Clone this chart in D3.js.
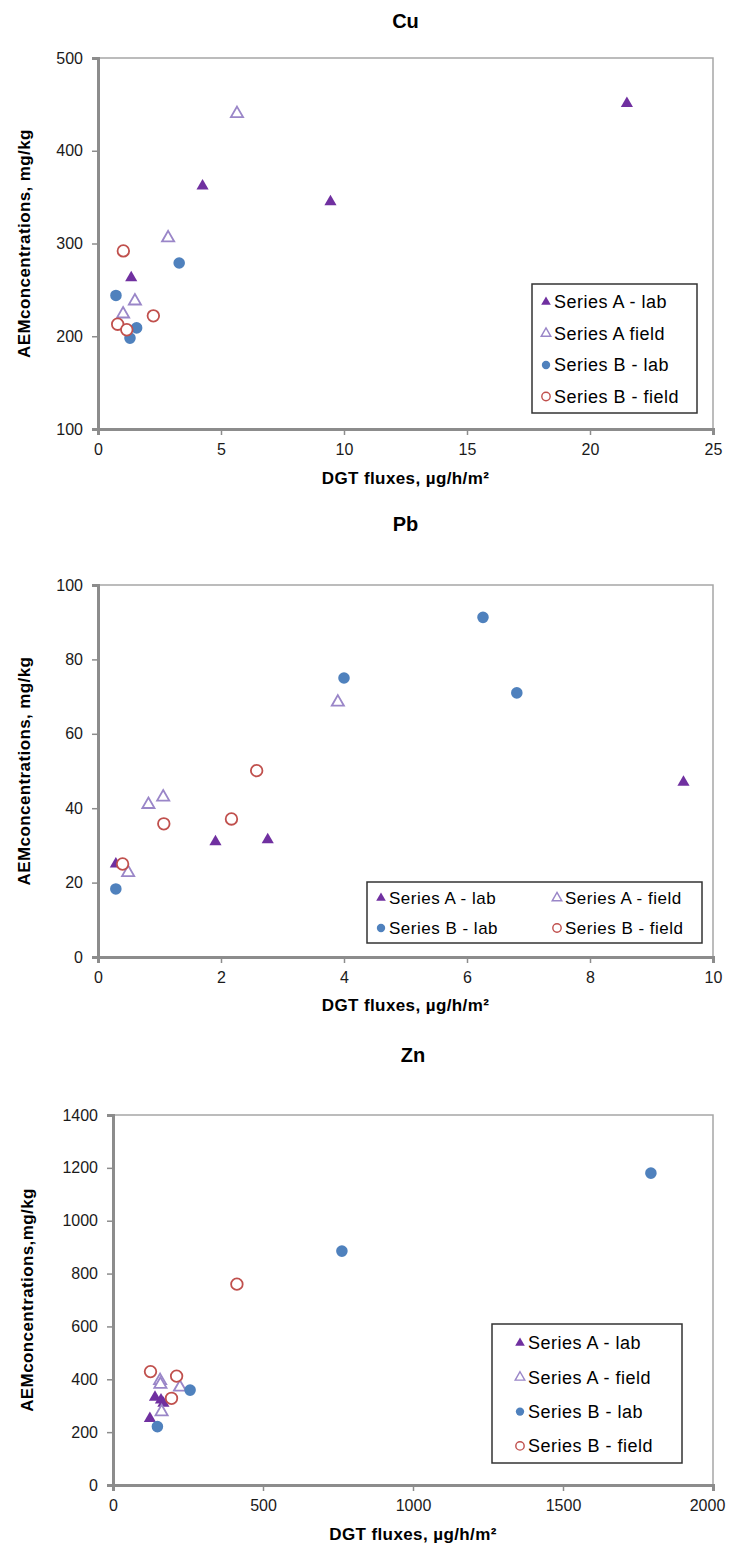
<!DOCTYPE html>
<html>
<head>
<meta charset="utf-8">
<script src="https://cdn.jsdelivr.net/npm/d3@7"></script>
<style>
  body { margin: 0; background: #fff; }
  text { font-family: "Liberation Sans", Arial, sans-serif; }
</style>
</head>
<body>
<svg id="chart" width="729" height="1551"></svg>
<script>
// ---- Cu ----
const cuXTicks = [0, 5, 10, 15, 20, 25];
const cuYTicks = [100, 200, 300, 400, 500];
const cuALab   = [[21.5, 451], [4.25, 362], [9.45, 345], [1.35, 263]];
const cuAField = [[5.65, 440], [2.85, 306], [1.5, 238], [1.02, 224]];
const cuBLab   = [[3.3, 279], [0.73, 244], [1.57, 209], [1.3, 198]];
const cuBField = [[1.03, 292], [2.25, 222], [0.8, 213], [1.17, 207]];
const cuLegend = ["Series A - lab", "Series A field", "Series B - lab", "Series B - field"];

// ---- Pb ----
const pbXTicks = [0, 2, 4, 6, 8, 10];
const pbYTicks = [0, 20, 40, 60, 80, 100];
const pbALab   = [[9.52, 47], [1.91, 31], [2.76, 31.5], [0.29, 25]];
const pbAField = [[3.9, 68.5], [1.06, 43], [0.82, 41], [0.49, 22.7]];
const pbBLab   = [[6.26, 91.3], [4.0, 75], [6.81, 71], [0.29, 18.3]];
const pbBField = [[2.58, 50.1], [2.17, 37.1], [1.07, 35.8], [0.4, 25]];
const pbLegend = ["Series A - lab", "Series A - field", "Series B - lab", "Series B - field"];

// ---- Zn ----
const znXTicks = [0, 500, 1000, 1500, 2000];
const znYTicks = [0, 200, 400, 600, 800, 1000, 1200, 1400];
const znALab   = [[140, 332], [160, 322], [168, 309], [123, 252]];
const znAField = [[157, 395], [158, 381], [223, 370], [162, 277]];
const znBLab   = [[1793, 1180], [763, 885], [257, 359], [148, 221]];
const znBField = [[413, 760], [125, 429], [212, 412], [195, 328]];
const znLegend = ["Series A - lab", "Series A - field", "Series B - lab", "Series B - field"];

const xTitle = "DGT fluxes, µg/h/m²";

// marker styles for the four series
const styles = [
  { shape: d3.symbolTriangle, fill: "#7030A0", stroke: "#7030A0", sw: 0 },
  { shape: d3.symbolTriangle, fill: "#ffffff", stroke: "#9A86C8", sw: 1.8 },
  { shape: d3.symbolCircle,   fill: "#4F81BD", stroke: "#4F81BD", sw: 0 },
  { shape: d3.symbolCircle,   fill: "#ffffff", stroke: "#C0504D", sw: 1.8 }
];

const svg = d3.select("#chart");
const axisGray = "#8c8c8c";

function drawPanel(p) {
  const g = svg.append("g");
  const x = d3.scaleLinear().domain(p.xDomain).range([p.left, p.right]);
  const y = d3.scaleLinear().domain(p.yDomain).range([p.bottom, p.top]);

  // title
  g.append("text")
    .attr("x", (p.left + p.right) / 2).attr("y", p.titleY)
    .attr("text-anchor", "middle")
    .attr("font-size", 20).attr("font-weight", "bold").attr("fill", "#000")
    .text(p.title);

  // plot frame (top/right)
  g.append("rect")
    .attr("x", p.left).attr("y", p.top)
    .attr("width", p.right - p.left).attr("height", p.bottom - p.top)
    .attr("fill", "none").attr("stroke", "#a6a6a6").attr("stroke-width", 1.5);

  // axes
  const xa = g.append("g").attr("transform", `translate(0,${p.bottom})`)
    .call(d3.axisBottom(x).tickValues(p.xTicks).tickSize(6).tickPadding(9).tickFormat(d3.format("d")));
  const ya = g.append("g").attr("transform", `translate(${p.left},0)`)
    .call(d3.axisLeft(y).tickValues(p.yTicks).tickSize(6).tickPadding(9).tickFormat(d3.format("d")));
  [xa, ya].forEach(a => {
    a.select(".domain").attr("stroke", axisGray).attr("stroke-width", 3);
    a.selectAll(".tick line").attr("stroke", axisGray).attr("stroke-width", 1.5);
    a.selectAll(".tick text").attr("font-size", 16).attr("fill", "#1a1a1a")
      .attr("font-family", "\"Liberation Sans\", Arial, sans-serif");
  });
  // keep the last x label inside the page
  if (p.lastXShift) {
    xa.selectAll(".tick text").filter((d, i, n) => i === n.length - 1).attr("dx", p.lastXShift);
  }

  // axis titles
  g.append("text")
    .attr("x", (p.left + p.right) / 2).attr("y", p.xTitleY)
    .attr("text-anchor", "middle")
    .attr("font-size", 17).attr("font-weight", "bold").attr("fill", "#000")
    .attr("letter-spacing", 0.4)
    .text(xTitle);
  g.append("text")
    .attr("transform", `translate(${p.yTitleX},${(p.top + p.bottom) / 2}) rotate(-90)`)
    .attr("text-anchor", "middle")
    .attr("font-size", 17).attr("font-weight", "bold").attr("fill", "#000")
    .attr("letter-spacing", 0.4)
    .text(p.yTitle);

  // data points
  p.series.forEach((data, i) => {
    const s = styles[i];
    const sym = d3.symbol().type(s.shape).size(s.shape === d3.symbolCircle ? 105 : 64);
    g.append("g").selectAll("path").data(data).join("path")
      .attr("transform", d => `translate(${x(d[0])},${y(d[1])})`)
      .attr("d", sym)
      .attr("fill", s.fill).attr("stroke", s.stroke).attr("stroke-width", s.sw);
  });

  // legend
  const L = p.legend;
  g.append("rect")
    .attr("x", L.x).attr("y", L.y).attr("width", L.w).attr("height", L.h)
    .attr("fill", "#fff").attr("stroke", "#333").attr("stroke-width", 1.5);
  L.labels.forEach((lab, i) => {
    const col = i % L.cols, row = Math.floor(i / L.cols);
    const mx = L.x + L.markerX + col * L.colW;
    const my = L.y + L.firstRow + row * L.rowH;
    const s = styles[i];
    const sym = d3.symbol().type(s.shape).size(s.shape === d3.symbolCircle ? 55 : 40);
    g.append("path")
      .attr("transform", `translate(${mx},${my})`)
      .attr("d", sym)
      .attr("fill", s.fill).attr("stroke", s.stroke).attr("stroke-width", s.sw ? 1.4 : 0);
    g.append("text")
      .attr("x", mx + 8).attr("y", my)
      .attr("dy", "0.35em")
      .attr("font-size", L.fontSize).attr("fill", "#000")
      .attr("letter-spacing", 0.5)
      .text(lab);
  });
}

drawPanel({
  title: "Cu", titleY: 28,
  left: 98, right: 713, top: 58, bottom: 429,
  xDomain: [0, 25], yDomain: [100, 500],
  xTicks: cuXTicks, yTicks: cuYTicks,
  xTitleY: 484, yTitleX: 30, yTitle: "AEMconcentrations, mg/kg",
  series: [cuALab, cuAField, cuBLab, cuBField],
  legend: { x: 532, y: 284, w: 165, h: 129, cols: 1, colW: 0, markerX: 14, firstRow: 18, rowH: 31.5,
            fontSize: 18, labels: cuLegend }
});

drawPanel({
  title: "Pb", titleY: 531,
  left: 98, right: 713, top: 585, bottom: 957,
  xDomain: [0, 10], yDomain: [0, 100],
  xTicks: pbXTicks, yTicks: pbYTicks,
  xTitleY: 1011, yTitleX: 30, yTitle: "AEMconcentrations, mg/kg",
  series: [pbALab, pbAField, pbBLab, pbBField],
  legend: { x: 367, y: 882, w: 335, h: 61, cols: 2, colW: 176, markerX: 14, firstRow: 16, rowH: 30,
            fontSize: 17, labels: pbLegend }
});

drawPanel({
  title: "Zn", titleY: 1062,
  left: 113, right: 713, top: 1115, bottom: 1485,
  xDomain: [0, 2000], yDomain: [0, 1400],
  xTicks: znXTicks, yTicks: znYTicks, lastXShift: -6,
  xTitleY: 1540, yTitleX: 33, yTitle: "AEMconcentrations,mg/kg",
  series: [znALab, znAField, znBLab, znBField],
  legend: { x: 492, y: 1324, w: 190, h: 139, cols: 1, colW: 0, markerX: 28, firstRow: 19, rowH: 34.3,
            fontSize: 18, labels: znLegend }
});
</script>
</body>
</html>
